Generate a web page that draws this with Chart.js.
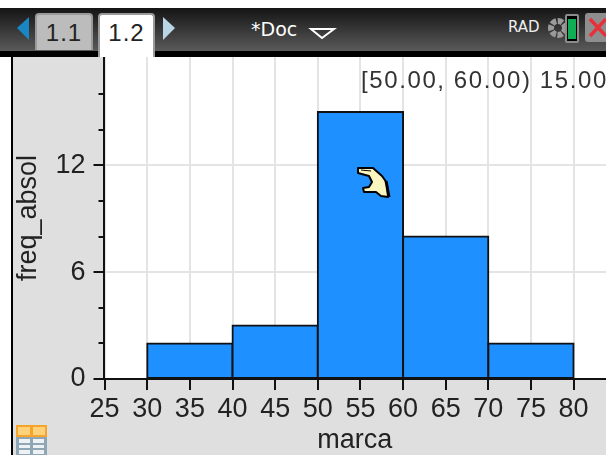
<!DOCTYPE html>
<html>
<head>
<meta charset="utf-8">
<script src="https://cdn.jsdelivr.net/npm/chart.js@4"></script>
<style>
html,body{margin:0;padding:0;background:#fff;width:606px;height:455px;overflow:hidden}
#stage{position:absolute;left:0;top:0;width:606px;height:455px;overflow:hidden;font-family:"Liberation Sans",sans-serif;filter:blur(0.45px)}
#panel{position:absolute;left:11px;top:57px;width:595px;height:398px;background:#dfdfdf;border-left:2px solid #000;box-sizing:border-box}
#head{position:absolute;left:0;top:8px;width:606px;height:43px;background:linear-gradient(#141414,#5a5a5a)}
#band{position:absolute;left:0;top:51px;width:606px;height:6px;background:#000}
canvas{position:absolute;left:0;top:0}
.tab{position:absolute;top:13px;height:37px;box-sizing:border-box;border:2px solid #9a9a9a;border-bottom:none;border-radius:4px 4px 0 0;text-align:center;font-size:24px;line-height:36px;color:#222;letter-spacing:1px}
#t1{left:35px;width:58px;background:#bcbcbc}
#t2{left:98px;width:57px;height:44px;background:#fff}
.ov{position:absolute;white-space:nowrap}
</style>
</head>
<body>
<div id="stage">
  <div id="panel"></div>
  <canvas id="c" width="606" height="455" style="width:606px;height:455px"></canvas>
  <div id="head"></div>
  <div id="band"></div>
  <div class="tab" id="t1">1.1</div>
  <div class="tab" id="t2">1.2</div>
  <svg class="ov" style="left:0;top:0" width="606" height="60">
    <polygon points="29,17 29,40 17,28" fill="#1a86c4"/>
    <polygon points="163,17 163,40 175,28" fill="#b9d6e6"/>
    <polygon points="311,29 334,29 322,38" fill="none" stroke="#fff" stroke-width="2"/>
    <circle cx="558" cy="28" r="7" fill="none" stroke="#9a9a9a" stroke-width="6" stroke-dasharray="5 1.5"/>
    <rect x="566" y="15" width="12" height="27" rx="1" fill="#000" stroke="#8c8c8c" stroke-width="2"/>
    <rect x="568" y="19" width="8" height="20" fill="#0fae55"/>
    <rect x="585" y="13" width="30" height="29" rx="3" fill="#8e8e8e"/>
    <path d="M590 19 L606 36 M606 19 L590 36" stroke="#e8303a" stroke-width="3.5" fill="none"/>
  </svg>
  <div class="ov" style="left:251px;top:18px;color:#fff;font-family:'DejaVu Sans',sans-serif;font-size:19px">*Doc</div>
  <div class="ov" style="left:508px;top:18px;font-size:15px;color:#eee;font-family:'DejaVu Sans',sans-serif">RAD</div>
  <div class="ov" style="left:361px;top:66px;font-size:24px;color:#333;letter-spacing:1.6px">[50.00, 60.00) 15.00</div>
  <svg class="ov" style="left:340px;top:150px" width="60" height="60">
    <path d="M18 18 L33 18 L42 26 L47 33 L48 47 L41 46 L36 42 L24 42 L23 38 L29 37 L32 32 L29 26 L18 23 Z" fill="#fbf6c0" stroke="#000" stroke-width="2" stroke-linejoin="round"/>
    <path d="M46 31 L49 47" stroke="#000" stroke-width="3"/>
    <path d="M21 20 L31 21" stroke="#000" stroke-width="1"/>
  </svg>
  <svg class="ov" style="left:16px;top:425px" width="32" height="30">
    <rect x="0" y="0" width="31" height="12" fill="#f7a52a"/>
    <rect x="2" y="2" width="12" height="8" fill="#fdd27a"/><rect x="17" y="2" width="12" height="8" fill="#fdd27a"/>
    <rect x="0" y="12" width="31" height="18" fill="#8fa6b5"/>
    <g fill="#eef2f4"><rect x="3" y="14" width="11" height="4"/><rect x="17" y="14" width="11" height="4"/>
    <rect x="3" y="20" width="11" height="3"/><rect x="17" y="20" width="11" height="3"/>
    <rect x="3" y="25" width="11" height="4"/><rect x="17" y="25" width="11" height="4"/></g>
  </svg>
</div>
<script>
const classMidpoints = [35, 45, 55, 65, 75];
const frequencies = [2, 3, 15, 8, 2];
const xTickValues = [25, 30, 35, 40, 45, 50, 55, 60, 65, 70, 75, 80];
const yTickValues = [0, 6, 12];
const yMinorTickValues = [2, 4, 8, 10, 14, 16];
const xTitle = "marca";
const yTitle = "freq_absol";
const tickFont = {family: '"Liberation Sans"', size: 27};

const plotChrome = {
  id: 'plotChrome',
  beforeDraw(chart) {
    const a = chart.chartArea, ctx = chart.ctx;
    ctx.save();
    ctx.fillStyle = '#fff';
    ctx.fillRect(a.left, a.top, a.right - a.left, a.bottom - a.top);
    ctx.restore();
  },
  afterDraw(chart) {
    const y = chart.scales.y, ctx = chart.ctx, a = chart.chartArea;
    ctx.save();
    ctx.strokeStyle = '#111';
    ctx.lineWidth = 2;
    ctx.beginPath();
    yMinorTickValues.forEach(v => {
      const p = Math.round(y.getPixelForValue(v));
      ctx.moveTo(a.left - 5, p);
      ctx.lineTo(a.left, p);
    });
    ctx.stroke();
    ctx.restore();
  }
};

new Chart(document.getElementById('c'), {
  type: 'bar',
  data: {
    datasets: [{
      data: classMidpoints.map((x, i) => ({x: x, y: frequencies[i]})),
      backgroundColor: '#1e90ff',
      borderColor: '#111',
      borderWidth: 2,
      borderSkipped: false,
      inflateAmount: 1,
      barPercentage: 2,
      categoryPercentage: 1
    }]
  },
  options: {
    responsive: false,
    animation: false,
    devicePixelRatio: 1,
    layout: {padding: {top: 57, right: 0, left: 0, bottom: 0}},
    plugins: {legend: {display: false}, tooltip: {enabled: false}},
    scales: {
      x: {
        type: 'linear',
        offset: false,
        min: 24.87,
        max: 83.8,
        afterBuildTicks(s) { s.ticks = xTickValues.map(v => ({value: v})); },
        afterFit(s) { s.height = 76; },
        ticks: {font: tickFont, color: '#222', padding: 3, maxRotation: 0, autoSkip: false, includeBounds: false,
          callback: v => String(v)},
        grid: {offset: false, color: '#e4e4e4', lineWidth: 2, tickColor: '#111', tickLength: 11, tickWidth: 2},
        border: {color: '#111', width: 2},
        title: {display: true, text: xTitle, color: '#222', font: {family: '"Liberation Sans"', size: 27}, padding: {top: 0, bottom: -2}}
      },
      y: {
        type: 'linear',
        min: 0,
        max: 18.09,
        afterBuildTicks(s) { s.ticks = yTickValues.map(v => ({value: v})); },
        afterFit(s) { s.width = 103.5; },
        ticks: {font: tickFont, color: '#222', padding: 8, autoSkip: false, callback: v => String(v)},
        grid: {color: '#e4e4e4', lineWidth: 2, tickColor: '#111', tickLength: 10, tickWidth: 2},
        border: {color: '#111', width: 2},
        title: {display: true, text: yTitle, color: '#222', font: {family: '"Liberation Sans"', size: 27}, padding: {top: 12, bottom: 0}}
      }
    }
  },
  plugins: [plotChrome]
});
</script>
</body>
</html>
